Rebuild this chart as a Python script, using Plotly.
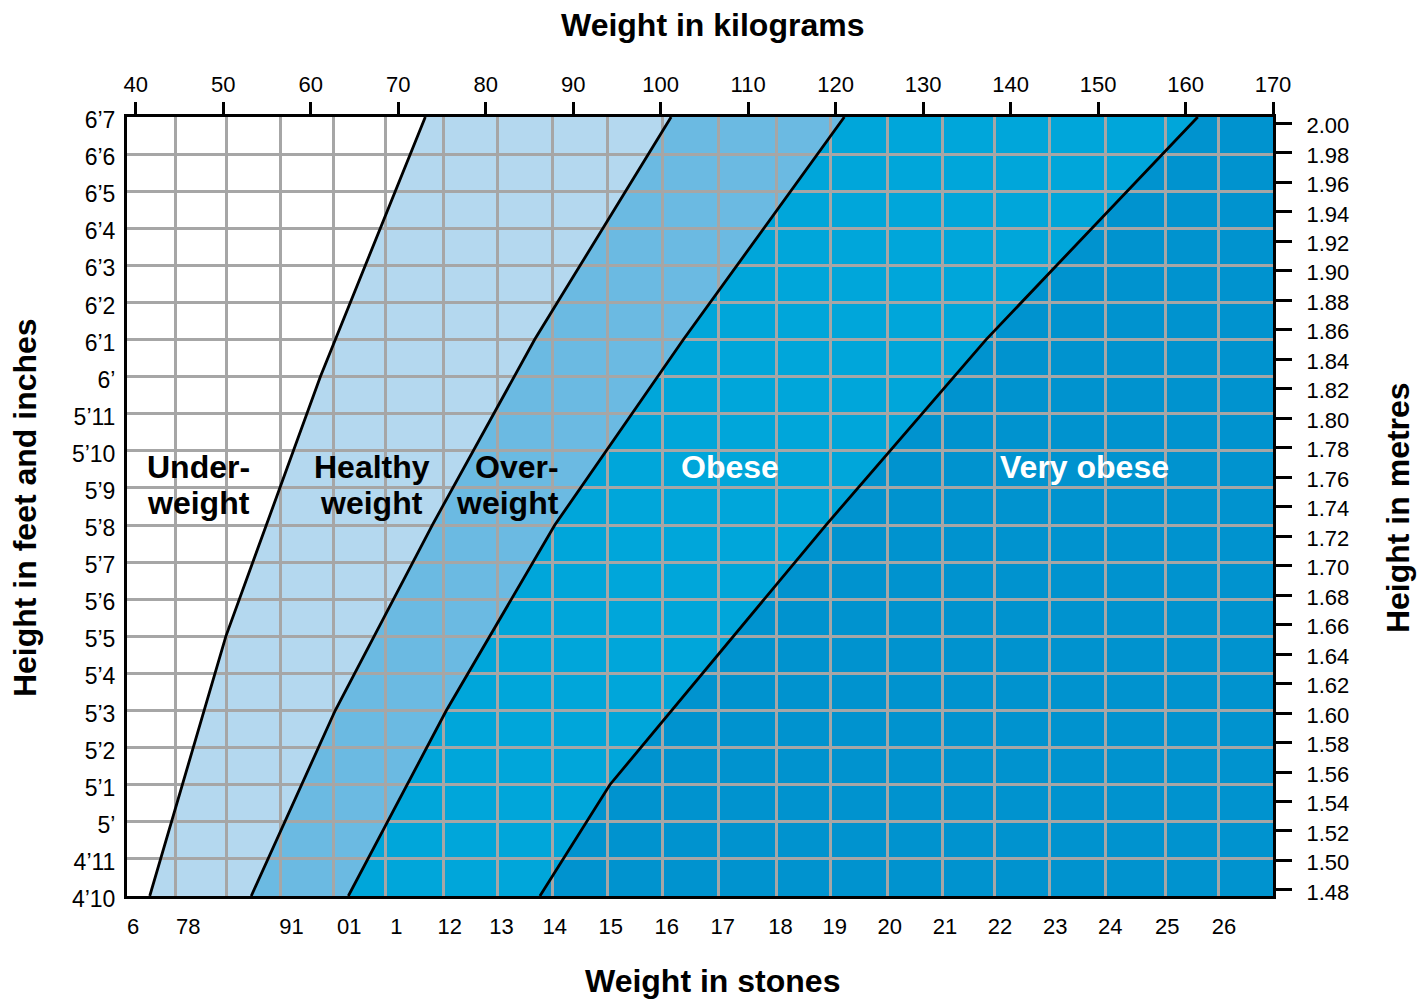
import plotly.graph_objects as go

# ---------------- data ----------------
height_in = list(range(58, 80))  # 4'10 .. 6'7 in inches
height_labels = ["4’10", "4’11", "5’", "5’1", "5’2", "5’3", "5’4", "5’5", "5’6",
                 "5’7", "5’8", "5’9", "5’10", "5’11", "6’", "6’1", "6’2", "6’3",
                 "6’4", "6’5", "6’6", "6’7"]

kg_ticks = list(range(40, 171, 10))
metre_ticks = [1.48, 1.50, 1.52, 1.54, 1.56, 1.58, 1.60, 1.62, 1.64, 1.66, 1.68,
               1.70, 1.72, 1.74, 1.76, 1.78, 1.80, 1.82, 1.84, 1.86, 1.88, 1.90,
               1.92, 1.94, 1.96, 1.98, 2.00]

# stone grid lines, located on the kilogram scale
stone_grid_kg = [44.6, 50.4, 56.6, 62.6, 68.6, 75.2, 81.3, 87.6, 93.9, 100.2,
                 106.6, 113.3, 119.4, 125.9, 132.2, 138.2, 144.5, 150.9, 157.7, 163.8]
# stone labels and where they sit on the kilogram scale
stone_labels = ["6", "78", "91", "01", "1", "12", "13", "14", "15", "16", "17",
                "18", "19", "20", "21", "22", "23", "24", "25", "26"]
stone_label_kg = [39.7, 46.0, 57.8, 64.4, 69.8, 75.9, 81.8, 87.9, 94.3, 100.7,
                  107.1, 113.7, 119.9, 126.2, 132.5, 138.8, 145.1, 151.4, 157.9, 164.4]

# band boundaries: (height in inches, weight in kg) vertices
under_healthy_h = [58, 65, 72, 79]
under_healthy_kg = [41.6, 50.3, 61.1, 73.1]
healthy_over_h = [58, 63, 68, 73, 79]
healthy_over_kg = [53.2, 62.8, 73.9, 85.6, 101.2]
over_obese_h = [58, 63, 68, 73, 79]
over_obese_kg = [64.3, 75.5, 87.9, 102.6, 121.0]
obese_very_h = [58, 61, 68, 73, 79]
obese_very_kg = [86.2, 94.2, 118.9, 137.2, 161.4]

band_colors = {"healthy": "#b4d8ef", "over": "#6bbae2", "obese": "#00a6da",
               "very": "#0093cf"}

# ---------------- figure ----------------
FONT = "Liberation Sans, Arial, Helvetica, sans-serif"
X_RANGE = [39.0, 170.0]
Y_RANGE = [58, 79]
M_RANGE = [1.4759, 2.0043]


def band_path(left_x, left_h, right_x, right_h):
    pts = list(zip(left_x, left_h)) + list(zip(reversed(right_x), reversed(right_h)))
    return "M " + " L ".join(f"{x},{y}" for x, y in pts) + " Z"


bounds = [(under_healthy_kg, under_healthy_h), (healthy_over_kg, healthy_over_h),
          (over_obese_kg, over_obese_h), (obese_very_kg, obese_very_h),
          ([X_RANGE[1], X_RANGE[1]], [Y_RANGE[0], Y_RANGE[1]])]
keys = ["healthy", "over", "obese", "very"]
shapes = []
for i, key in enumerate(keys):
    (lx, lh), (rx, rh) = bounds[i], bounds[i + 1]
    shapes.append(dict(type="path", path=band_path(lx, lh, rx, rh), xref="x", yref="y",
                       fillcolor=band_colors[key], line=dict(width=0), layer="below"))

fig = go.Figure()
for bx, bh in bounds[:4]:
    fig.add_trace(go.Scatter(x=bx, y=bh, mode="lines",
                             line=dict(color="black", width=2.8),
                             hoverinfo="skip", showlegend=False))

# invisible carriers for the extra axes
for xa, ya in [("x2", "y"), ("x3", "y"), ("x", "y2")]:
    fig.add_trace(go.Scatter(x=[None], y=[None], xaxis=xa, yaxis=ya, mode="lines",
                             hoverinfo="skip", showlegend=False))

tick_font = dict(family=FONT, size=22, color="black")
left_font = dict(family=FONT, size=23, color="black")
grid_col = "#a6a6a6"

# the page body adds an 8px margin, so the figure is sized to fill the rest
fig.update_layout(
    width=1419, height=991,
    margin=dict(l=119, r=154, t=109, b=103),
    paper_bgcolor="white", plot_bgcolor="white",
    showlegend=False,
    shapes=shapes,
    xaxis=dict(range=X_RANGE, side="top", tickvals=kg_ticks, ticks="outside",
               ticklen=12, tickwidth=2.5, tickcolor="black", showgrid=False,
               zeroline=False, showline=True, linewidth=3, linecolor="black",
               mirror=True, tickfont=tick_font, ticklabelstandoff=1, fixedrange=True),
    xaxis2=dict(range=X_RANGE, overlaying="x", side="bottom", anchor="y",
                tickvals=stone_grid_kg, showticklabels=False, ticks="",
                showgrid=True, gridcolor=grid_col, gridwidth=2.5, zeroline=False,
                showline=False),
    xaxis3=dict(range=X_RANGE, overlaying="x", side="bottom", anchor="y",
                tickvals=stone_label_kg, ticktext=stone_labels, ticks="",
                showgrid=False, zeroline=False, showline=False, tickfont=tick_font,
                ticklabelstandoff=15),
    yaxis=dict(range=Y_RANGE, tickvals=height_in, ticktext=height_labels, ticks="",
               showgrid=True, gridcolor=grid_col, gridwidth=2.5, zeroline=False,
               showline=True, linewidth=3, linecolor="black", mirror=True,
               tickfont=left_font, ticklabelstandoff=4, ticklabelshift=3,
               fixedrange=True),
    yaxis2=dict(range=M_RANGE, overlaying="y", side="right", anchor="x",
                tickvals=metre_ticks, tickformat=".2f", ticks="outside", ticklen=18,
                tickwidth=3, tickcolor="black", showgrid=False, zeroline=False,
                showline=False, tickfont=tick_font, ticklabelstandoff=10,
                ticklabelshift=2),
)

title_font = dict(family=FONT, size=32, color="black", weight="bold")
band_font_dark = dict(family=FONT, size=32, color="black", weight="bold")
band_font_light = dict(family=FONT, size=32, color="white", weight="bold")

Y1, Y2 = 69.56, 68.59
annotations = [
    dict(text="Weight in kilograms", xref="paper", yref="paper", x=0.5105, y=1.1181,
         font=title_font, xanchor="center"),
    dict(text="Weight in stones", xref="paper", yref="paper", x=0.5105, y=-0.1091,
         font=title_font, xanchor="center"),
    dict(text="Height in feet and inches", xref="paper", yref="paper", x=-0.0890,
         y=0.498, textangle=-90, font=title_font, xanchor="center"),
    dict(text="Height in metres", xref="paper", yref="paper", x=1.1091, y=0.498,
         textangle=-90, font=title_font, xanchor="center"),
    dict(text="Under-", x=41.0, y=Y1, xanchor="left", font=band_font_dark),
    dict(text="weight", x=41.0, y=Y2, xanchor="left", font=band_font_dark),
    dict(text="Healthy", x=67.0, y=Y1, xanchor="center", font=band_font_dark),
    dict(text="weight", x=67.0, y=Y2, xanchor="center", font=band_font_dark),
    dict(text="Over-", x=88.6, y=Y1, xanchor="right", font=band_font_dark),
    dict(text="weight", x=88.6, y=Y2, xanchor="right", font=band_font_dark),
    dict(text="Obese", x=107.9, y=Y1, xanchor="center", font=band_font_light),
    dict(text="Very obese", x=148.4, y=Y1, xanchor="center", font=band_font_light),
]
for a in annotations:
    a.setdefault("showarrow", False)
    a.setdefault("xref", "x")
    a.setdefault("yref", "y")
    a.setdefault("yanchor", "middle")
fig.update_layout(annotations=annotations)

fig.write_html("out.html", config={"displayModeBar": False})
